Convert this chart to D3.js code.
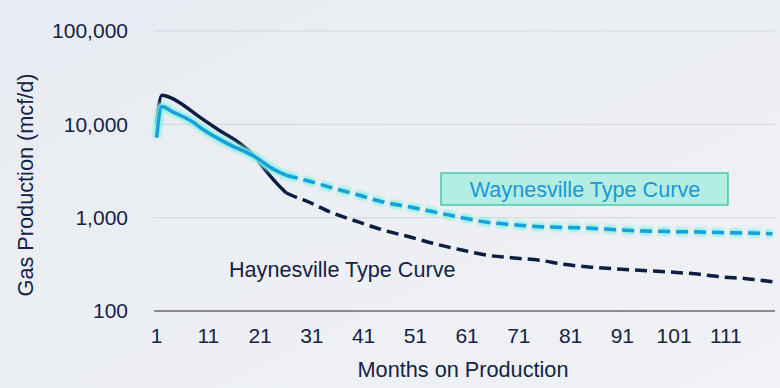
<!DOCTYPE html>
<html lang="en">
<head>
    <meta charset="UTF-8">
    <title>Type Curves</title>
    <style>
        body { margin: 0; background: #edf0f4; }
        svg { display: block; font-family: "Liberation Sans", Arial, sans-serif; }
        .grid line { stroke: #d3d6dc; stroke-width: 1; }
        .tick-label { fill: #142347; font-size: 21px; }
    </style>
</head>
<body>
    <svg class="chart"></svg>
    <script src="https://d3js.org/d3.v7.min.js"></script>
    <script>
        // values (months on production -> mcf/d)
        const haynesMonths = [1, 2, 4, 6, 9, 13, 17, 20, 22, 24, 26, 28, 30, 35, 40, 45, 50, 55, 60, 65, 70, 75, 80, 85, 90, 95, 100, 105, 110, 115, 120];
        const haynesValues = [9900, 20500, 19000, 16300, 12300, 8700, 6300, 4500, 3250, 2400, 1850, 1650, 1500, 1120, 900, 730, 620, 520, 450, 395, 370, 350, 315, 295, 282, 272, 262, 250, 232, 222, 206];
        const waynesMonths = [1, 2, 4, 8, 10, 15, 20, 23, 26, 30, 35, 40, 45, 50, 55, 60, 65, 70, 75, 80, 85, 90, 95, 100, 105, 110, 115, 120];
        const waynesValues = [7200, 15500, 13700, 10600, 8800, 6100, 4500, 3450, 2850, 2500, 2080, 1750, 1460, 1300, 1140, 1000, 890, 840, 800, 785, 770, 740, 720, 710, 705, 692, 685, 672];
        const solidUntil = 26;
        const xTicks = [1, 11, 21, 31, 41, 51, 61, 71, 81, 91, 101, 111];
        const yTicks = [100, 1000, 10000, 100000];

        const W = 780, H = 388;
        const svg = d3.select(".chart").attr("width", W).attr("height", H);

        const defs = svg.append("defs");
        const grad = defs.append("linearGradient").attr("id", "bg").attr("x1", 0).attr("y1", 0).attr("x2", 1).attr("y2", 1);
        grad.append("stop").attr("offset", "0%").attr("stop-color", "#e8ebf1");
        grad.append("stop").attr("offset", "100%").attr("stop-color", "#f0f2f5");
        defs.append("filter").attr("id", "glow").attr("x", "-10%").attr("y", "-10%").attr("width", "120%").attr("height", "120%")
            .append("feGaussianBlur").attr("stdDeviation", 1.8);

        svg.append("rect").attr("width", W).attr("height", H).attr("fill", "url(#bg)");

        const x = d3.scaleLinear().domain([0.5, 120.5]).range([154, 775]);
        const y = d3.scaleLog().domain([100, 100000]).range([311, 31]);

        // gridlines
        svg.append("g").attr("class", "grid")
            .selectAll("line").data(yTicks.filter(d => d > 100)).enter().append("line")
            .attr("x1", x.range()[0]).attr("x2", x.range()[1])
            .attr("y1", d => y(d)).attr("y2", d => y(d));
        svg.append("line")
            .attr("x1", x.range()[0]).attr("x2", x.range()[1])
            .attr("y1", y(100)).attr("y2", y(100))
            .attr("stroke", "#8c8c8c").attr("stroke-width", 2);

        // axes (labels only)
        const fmt = d3.format(",");
        svg.append("g").selectAll("text").data(yTicks).enter().append("text")
            .attr("class", "tick-label")
            .attr("x", 128).attr("y", d => y(d)).attr("dy", "0.35em")
            .attr("text-anchor", "end").text(d => fmt(d));
        svg.append("g").selectAll("text").data(xTicks).enter().append("text")
            .attr("class", "tick-label")
            .attr("x", d => x(d)).attr("y", 343)
            .attr("text-anchor", "middle").text(d => d);

        svg.append("text").attr("class", "tick-label")
            .attr("x", 463).attr("y", 377).attr("text-anchor", "middle")
            .style("font-size", "21.7px").text("Months on Production");
        svg.append("text").attr("class", "tick-label")
            .attr("transform", "translate(33,185) rotate(-90)").attr("text-anchor", "middle")
            .style("font-size", "21.7px").text("Gas Production (mcf/d)");

        const line = d3.line().x(d => x(d[0])).y(d => y(d[1])).curve(d3.curveMonotoneX);

        function series(months, values, color, glow) {
            const pts = months.map((m, i) => [m, values[i]]);
            const solid = pts.filter(p => p[0] <= solidUntil);
            const dashed = pts.filter(p => p[0] >= solidUntil);
            const g = svg.append("g").attr("fill", "none").attr("stroke-linecap", "butt");
            if (glow) {
                g.append("path").attr("d", line(solid)).attr("stroke", glow).attr("stroke-width", 8).attr("filter", "url(#glow)");
                g.append("path").attr("d", line(dashed)).attr("stroke", glow).attr("stroke-width", 8)
                    .attr("stroke-dasharray", "12 6").attr("filter", "url(#glow)");
            }
            g.append("path").attr("d", line(solid)).attr("stroke", color).attr("stroke-width", 3.5);
            g.append("path").attr("d", line(dashed)).attr("stroke", color).attr("stroke-width", 3.5)
                .attr("stroke-dasharray", "12 6");
        }

        series(haynesMonths, haynesValues, "#0e1d42", null);
        series(waynesMonths, waynesValues, "#18a0da", "#8cf0e4");

        // labels
        svg.append("rect").attr("x", 441).attr("y", 173).attr("width", 287).attr("height", 32)
            .attr("fill", "#b4ede3").attr("stroke", "#2fbf98").attr("stroke-width", 1.2);
        svg.append("text").attr("x", 585).attr("y", 197).attr("text-anchor", "middle")
            .attr("fill", "#1a98d6").style("font-size", "21.6px").text("Waynesville Type Curve");
        svg.append("text").attr("x", 229).attr("y", 277)
            .attr("fill", "#142347").style("font-size", "21.6px").text("Haynesville Type Curve");
    </script>
</body>
</html>
